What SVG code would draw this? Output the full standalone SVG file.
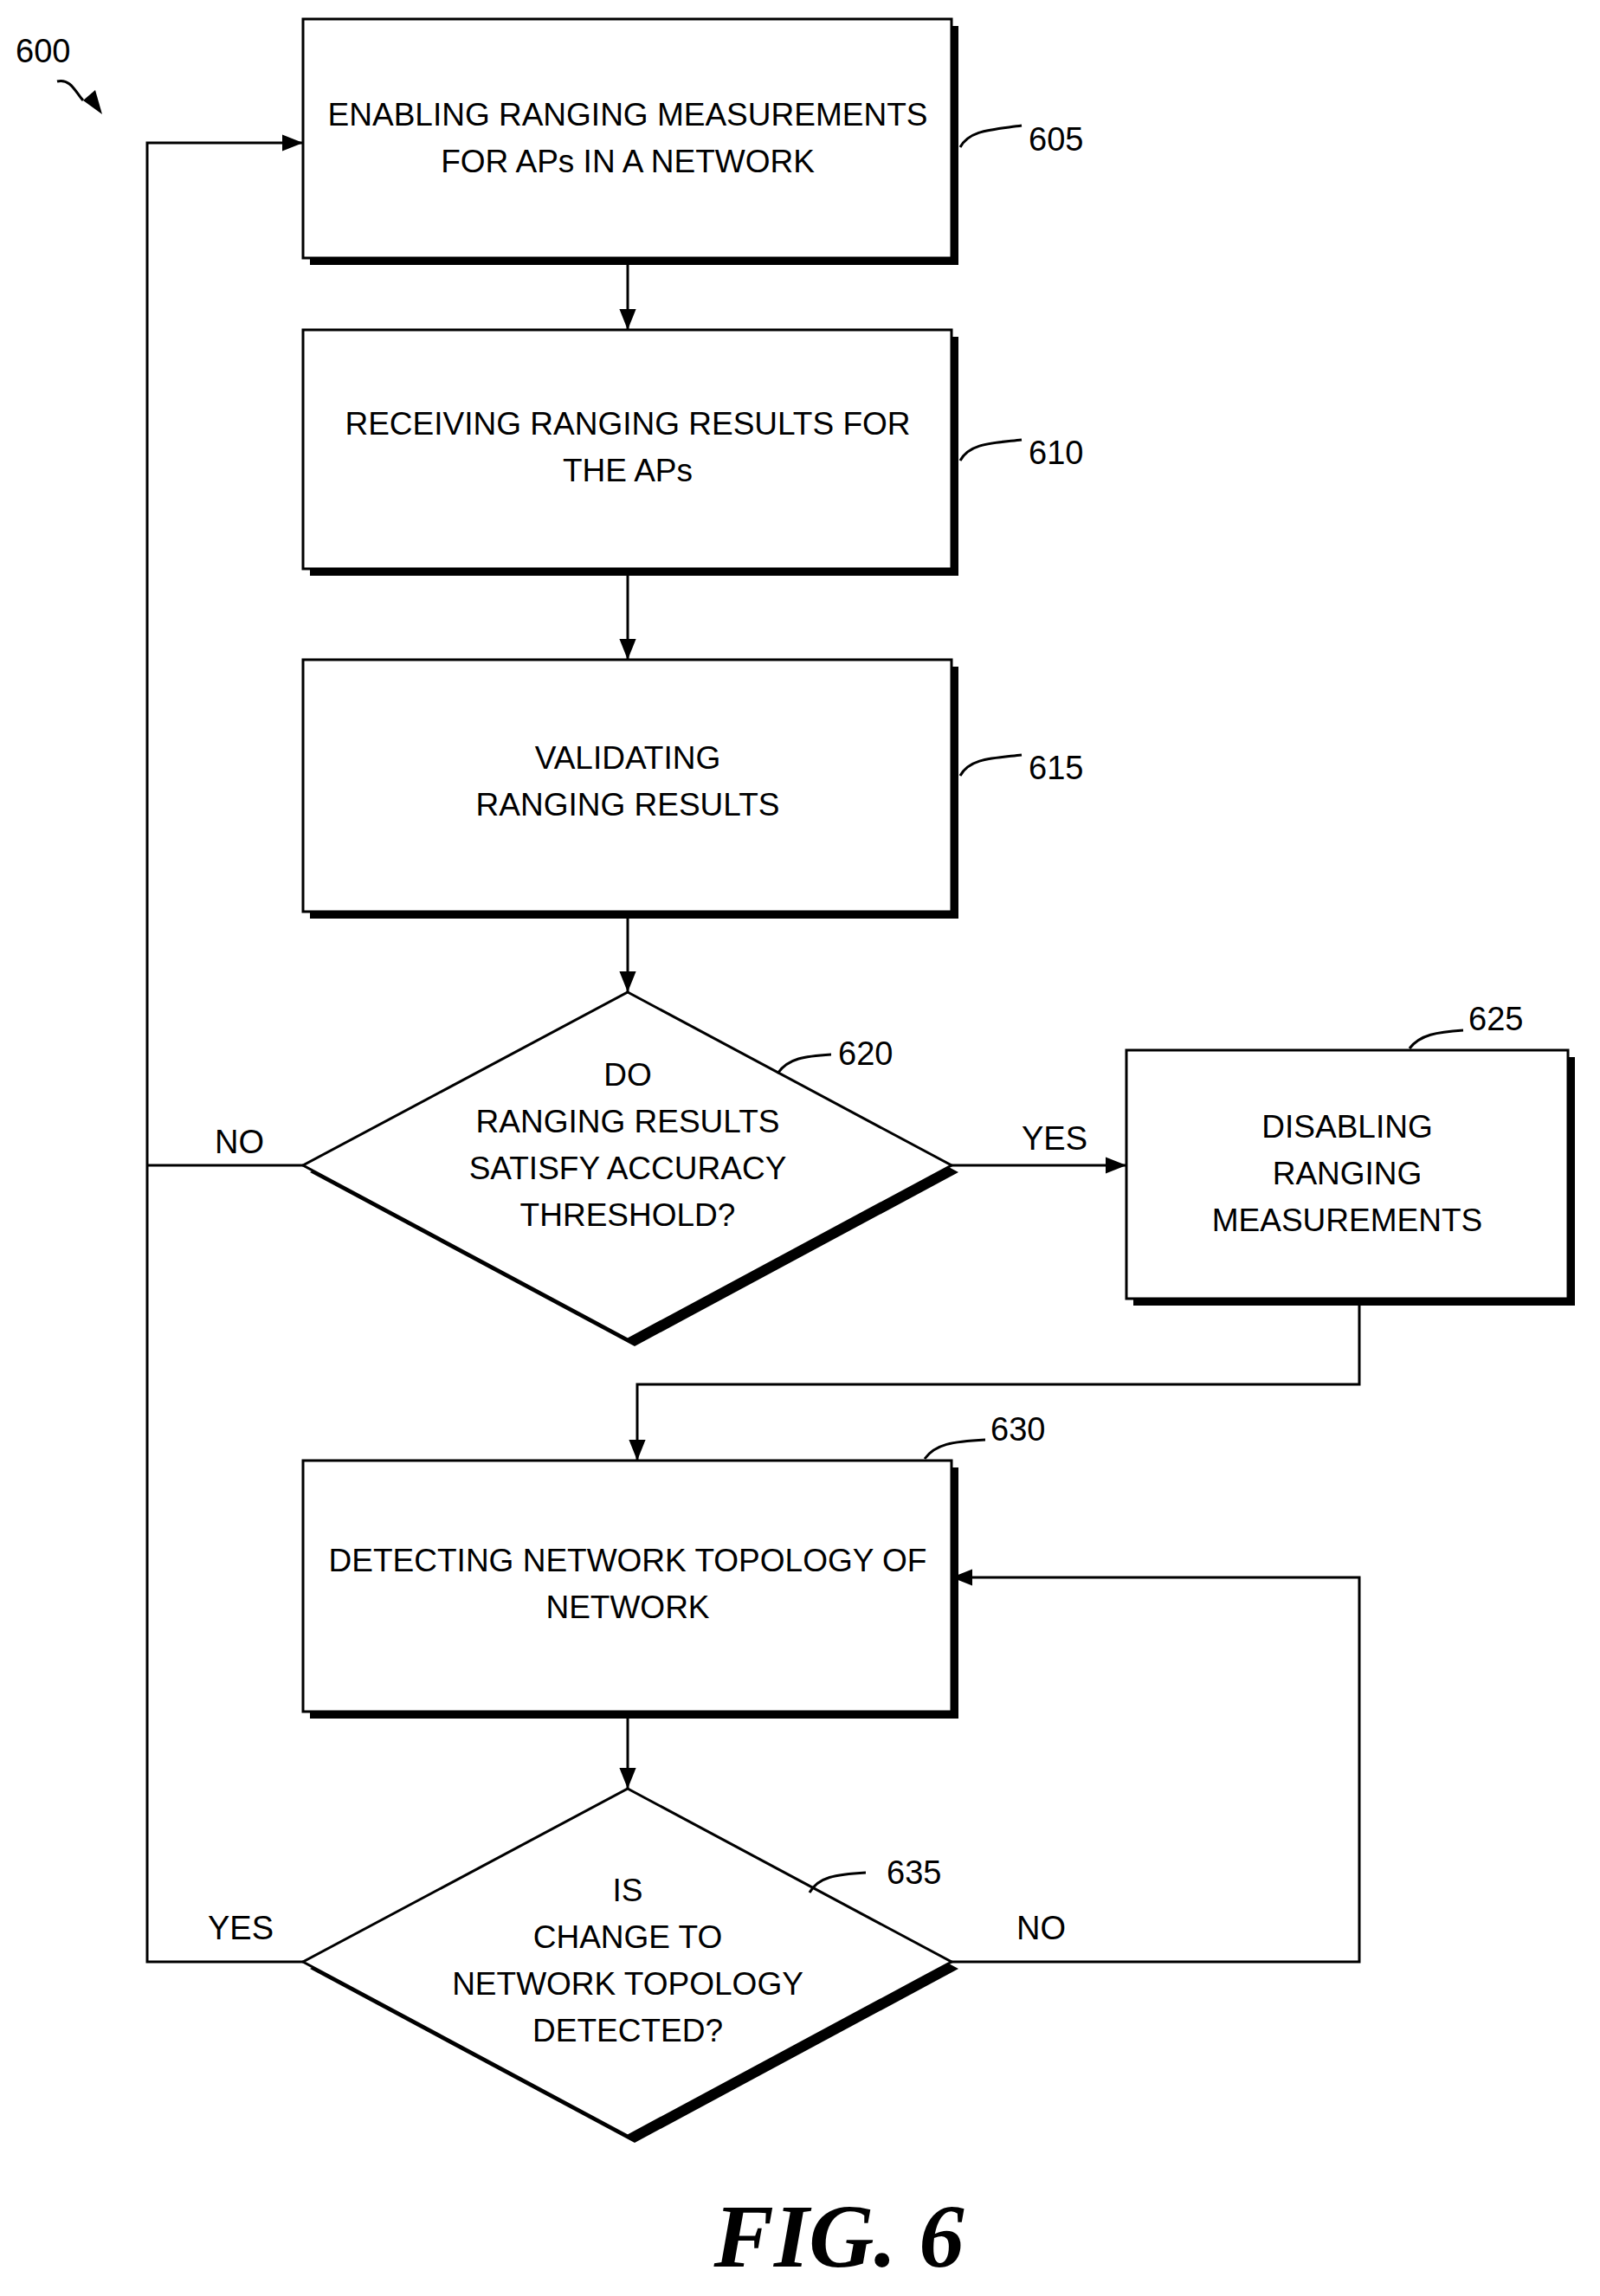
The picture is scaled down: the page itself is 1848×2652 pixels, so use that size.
<svg xmlns="http://www.w3.org/2000/svg" width="1848" height="2652" viewBox="0 0 1848 2652">
<style>
.box{fill:#fff;stroke:#000;stroke-width:3}
.sh{fill:#000}
.t{font-family:"Liberation Sans",Arial,sans-serif;font-size:37px;text-anchor:middle;fill:#000}
.n{font-family:"Liberation Sans",Arial,sans-serif;font-size:38px;fill:#000}
.ln{fill:none;stroke:#000;stroke-width:3}
</style>
<defs>
<marker id="ah" viewBox="0 0 10 10" refX="10" refY="5" markerWidth="10" markerHeight="10" markerUnits="userSpaceOnUse" orient="auto"><path d="M0,0L10,5L0,10z"/></marker>
<marker id="ahb" viewBox="0 0 10 10" refX="10" refY="5" markerWidth="24" markerHeight="24" markerUnits="userSpaceOnUse" orient="auto"><path d="M0,1L10,5L0,9z"/></marker>
</defs>
<rect width="1848" height="2652" fill="#fff"/>
<g id="connectors">
<path class="ln" d="M725,298V381" marker-end="url(#ahb)"/>
<path class="ln" d="M725,657V762" marker-end="url(#ahb)"/>
<path class="ln" d="M725,1053V1146" marker-end="url(#ahb)"/>
<path class="ln" d="M1099,1346H1301" marker-end="url(#ahb)"/>
<path class="ln" d="M1570,1508V1599H736V1687" marker-end="url(#ahb)"/>
<path class="ln" d="M725,1977V2066" marker-end="url(#ahb)"/>
<path class="ln" d="M350,2266H170V165H350" marker-end="url(#ahb)"/>
<path class="ln" d="M350,1346H170"/>
<path class="ln" d="M1099,2266H1570V1822H1099" marker-end="url(#ahb)"/>
<text class="n" x="248" y="1332">NO</text>
<text class="n" x="1180" y="1328">YES</text>
<text class="n" x="240" y="2240">YES</text>
<text class="n" x="1174" y="2240">NO</text>
</g>
<g id="label600">
<text class="n" x="18" y="72">600</text>
<path class="ln" d="M66,94C82,90 88,108 96,116" />
<path d="M96,116L118,132L110,104z"/>
</g>
<g id="n605">
<rect class="sh" x="358" y="30" width="749" height="276"/>
<rect class="box" x="350" y="22" width="749" height="276"/>
<text class="t" x="725" y="145">ENABLING RANGING MEASUREMENTS</text>
<text class="t" x="725" y="199">FOR APs IN A NETWORK</text>
<path class="ln" d="M1109,170C1120,150 1145,150 1180,145"/>
<text class="n" x="1188" y="174">605</text>
</g>
<g id="n610">
<rect class="sh" x="358" y="389" width="749" height="276"/>
<rect class="box" x="350" y="381" width="749" height="276"/>
<text class="t" x="725" y="502">RECEIVING RANGING RESULTS FOR</text>
<text class="t" x="725" y="556">THE APs</text>
<path class="ln" d="M1109,532C1120,512 1145,512 1180,508"/>
<text class="n" x="1188" y="536">610</text>
</g>
<g id="n615">
<rect class="sh" x="358" y="770" width="749" height="291"/>
<rect class="box" x="350" y="762" width="749" height="291"/>
<text class="t" x="725" y="888">VALIDATING</text>
<text class="t" x="725" y="942">RANGING RESULTS</text>
<path class="ln" d="M1109,896C1120,876 1145,876 1180,872"/>
<text class="n" x="1188" y="900">615</text>
</g>
<g id="n620">
<polygon class="sh" points="733,1154 1107,1354 733,1555 358,1354"/>
<polygon class="box" points="725,1146 1099,1346 725,1547 350,1346"/>
<text class="t" x="725" y="1254">DO</text>
<text class="t" x="725" y="1308">RANGING RESULTS</text>
<text class="t" x="725" y="1362">SATISFY ACCURACY</text>
<text class="t" x="725" y="1416">THRESHOLD?</text>
<path class="ln" d="M898,1240C910,1222 930,1220 960,1218"/>
<text class="n" x="968" y="1230">620</text>
</g>
<g id="n625">
<rect class="sh" x="1309" y="1221" width="510" height="287"/>
<rect class="box" x="1301" y="1213" width="510" height="287"/>
<text class="t" x="1556" y="1314">DISABLING</text>
<text class="t" x="1556" y="1368">RANGING</text>
<text class="t" x="1556" y="1422">MEASUREMENTS</text>
<path class="ln" d="M1628,1211C1640,1195 1660,1192 1690,1190"/>
<text class="n" x="1696" y="1190">625</text>
</g>
<g id="n630">
<rect class="sh" x="358" y="1695" width="749" height="290"/>
<rect class="box" x="350" y="1687" width="749" height="290"/>
<text class="t" x="725" y="1815">DETECTING NETWORK TOPOLOGY OF</text>
<text class="t" x="725" y="1869">NETWORK</text>
<path class="ln" d="M1068,1685C1080,1668 1100,1665 1138,1663"/>
<text class="n" x="1144" y="1664">630</text>
</g>
<g id="n635">
<polygon class="sh" points="733,2074 1107,2274 733,2475 358,2274"/>
<polygon class="box" points="725,2066 1099,2266 725,2467 350,2266"/>
<text class="t" x="725" y="2196">IS</text>
<text class="t" x="725" y="2250">CHANGE TO</text>
<text class="t" x="725" y="2304">NETWORK TOPOLOGY</text>
<text class="t" x="725" y="2358">DETECTED?</text>
<path class="ln" d="M935,2186C945,2168 965,2165 1000,2163"/>
<text class="n" x="1024" y="2176">635</text>
</g>
<text x="969" y="2618" font-family="'Liberation Serif','Times New Roman',serif" font-size="104" font-weight="bold" font-style="italic" text-anchor="middle">FIG. 6</text>
</svg>
